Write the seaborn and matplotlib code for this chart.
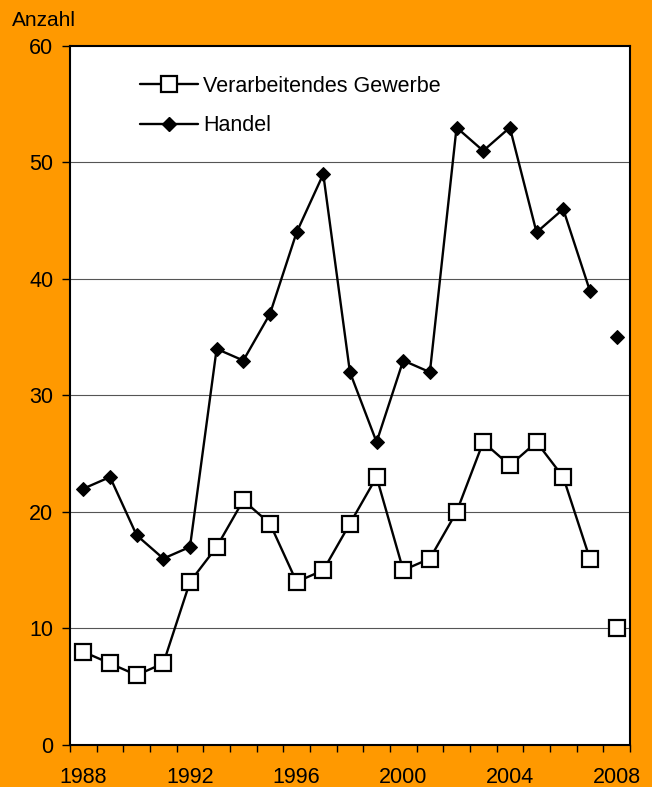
import numpy as np
import pandas as pd
import matplotlib

matplotlib.use("Agg")
import matplotlib.pyplot as plt
import seaborn as sns
from matplotlib.lines import Line2D

# ===================== Daten =====================
years = list(range(1988, 2009))
gewerbe = [8, 7, 6, 7, 14, 17, 21, 19, 14, 15, 19, 23, 15, 16, 20, 26, 24, 26, 23, 16, 10]
handel = [22, 23, 18, 16, 17, 34, 33, 37, 44, 49, 32, 26, 33, 32, 53, 51, 53, 44, 46, 39, 35]
tick_years = [1988, 1992, 1996, 2000, 2004, 2008]

df = pd.DataFrame({"pos": np.arange(len(years)), "Jahr": years,
                   "Gewerbe": gewerbe, "Handel": handel})
connected = df[df["Jahr"] < 2008]
last = df[df["Jahr"] == 2008]

sns.set_style("white")
plt.rcParams["font.family"] = ["Liberation Sans", "DejaVu Sans"]
plt.rcParams["text.color"] = "black"
plt.rcParams["xtick.color"] = "black"
plt.rcParams["ytick.color"] = "black"

orange = "#FF9900"
fig = plt.figure(figsize=(6.52, 7.87), dpi=100, facecolor=orange)
ax = fig.add_axes([0.1074, 0.0534, 0.8586, 0.8882])
ax.set_facecolor("white")

# Gitterlinien
for y in range(10, 60, 10):
    ax.axhline(y, color="#555555", lw=0.8, zorder=0)

sq = dict(marker="s", markersize=12, markerfacecolor="white",
          markeredgecolor="black", markeredgewidth=1.6)
dm = dict(marker="D", markersize=7.5, markerfacecolor="black",
          markeredgecolor="black")

sns.lineplot(data=connected, x="pos", y="Gewerbe", ax=ax, color="black",
             lw=1.7, zorder=3, **sq)
sns.lineplot(data=connected, x="pos", y="Handel", ax=ax, color="black",
             lw=1.7, zorder=3, **dm)
sns.lineplot(data=last, x="pos", y="Gewerbe", ax=ax, color="black",
             lw=0, zorder=3, **sq)
sns.lineplot(data=last, x="pos", y="Handel", ax=ax, color="black",
             lw=0, zorder=3, **dm)

ax.set_xlim(-0.5, len(years) - 0.5)
ax.set_ylim(0, 60)
ax.set_yticks(range(0, 61, 10))
ax.set_xticks(np.arange(-0.5, len(years), 1.0))
ax.set_xticklabels([])
ax.set_xticks([years.index(y) for y in tick_years], minor=True)
ax.set_xticklabels([str(y) for y in tick_years], minor=True)
ax.tick_params(axis="x", which="major", bottom=True, direction="out",
               length=5, width=1, color="black")
ax.tick_params(axis="x", which="minor", bottom=True, length=0, pad=16, labelsize=15.5)
ax.tick_params(axis="y", left=True, direction="out", length=6, width=1,
               color="black", labelsize=15.5, pad=6)
ax.set_xlabel("")
ax.set_ylabel("")

for s in ax.spines.values():
    s.set_visible(True)
    s.set_color("black")
    s.set_linewidth(1.5)

fig.text(0.018, 0.962, "Anzahl", fontsize=15, ha="left", va="bottom")

handles = [
    Line2D([], [], color="black", lw=1.7, **sq),
    Line2D([], [], color="black", lw=1.7, **dm),
]
ax.legend(handles, ["Verarbeitendes Gewerbe", "Handel"], loc="upper left",
          bbox_to_anchor=(0.09, 0.985), frameon=False, fontsize=15.5,
          handlelength=2.7, handletextpad=0.25, labelspacing=0.85)

fig.savefig("out.png", dpi=100, facecolor=orange)
